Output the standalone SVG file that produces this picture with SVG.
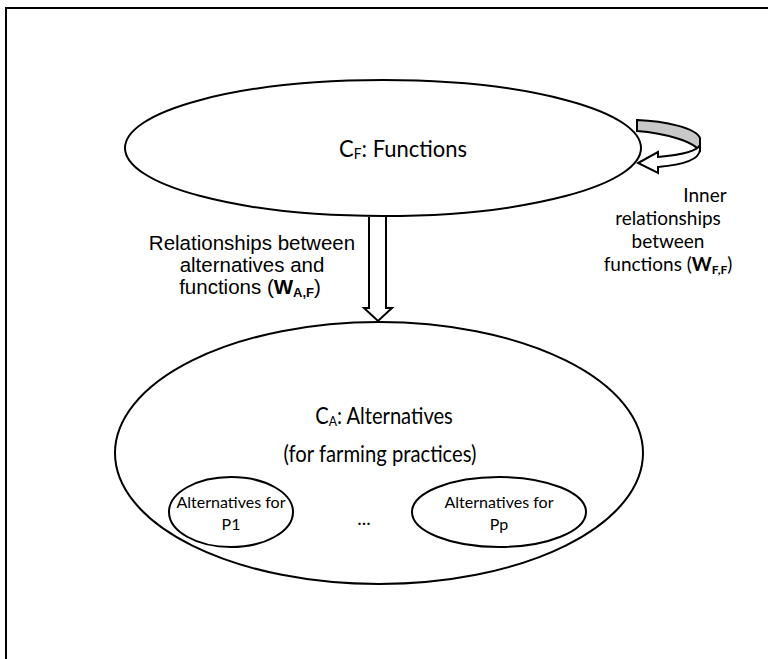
<svg xmlns="http://www.w3.org/2000/svg" width="768" height="659" viewBox="0 0 768 659">
<style>
.ln{fill:none;stroke:#000;stroke-width:2}
.nd{fill:#fff;stroke:#000;stroke-width:2}
.cal{font-family:Lato,"Open Sans",sans-serif;fill:#000}
.ari{font-family:"Liberation Sans",Arial,sans-serif;fill:#000}
</style>
<rect x="6" y="8" width="900" height="800" class="ln"/>
<g id="functions">
<ellipse cx="383" cy="148" rx="258" ry="68" class="nd"/>
<text transform="translate(403,157) scale(0.915,1)" text-anchor="middle" class="cal" font-size="24">C<tspan font-size="15" dy="2">F</tspan><tspan dy="-2">: Functions</tspan></text>
</g>
<g id="alternatives">
<ellipse cx="379" cy="453" rx="264" ry="131" class="nd"/>
<text transform="translate(384,424) scale(0.875,1)" text-anchor="middle" class="cal" font-size="23">C<tspan font-size="14" dy="2">A</tspan><tspan dy="-2">: Alternatives</tspan></text>
<text transform="translate(380,462) scale(0.88,1)" text-anchor="middle" class="cal" font-size="23">(for farming practices)</text>
</g>
<g id="alt-p1">
<ellipse cx="231" cy="512" rx="62" ry="35" class="nd"/>
<text x="231" y="508" text-anchor="middle" class="cal" font-size="16">Alternatives for</text>
<text x="231" y="530" text-anchor="middle" class="cal" font-size="16">P1</text>
</g>
<text x="364" y="525" text-anchor="middle" class="cal" font-size="19">...</text>
<g id="alt-pp">
<ellipse cx="499" cy="512" rx="87" ry="35" class="nd"/>
<text x="499" y="508" text-anchor="middle" class="cal" font-size="16">Alternatives for</text>
<text x="499" y="530" text-anchor="middle" class="cal" font-size="16">Pp</text>
</g>
<g id="connectors">
<path d="M369,217 L369,308 L364,308 L378,321 L392,308 L386,308 L386,217" fill="#fff" stroke="#000" stroke-width="2" stroke-linejoin="miter"/>
<path d="M637,120 C665,121 696,128 700,138 L700,152 C696,142 665,133 637,131 Z" fill="#c8c8c8" stroke="#000" stroke-width="2"/>
<path d="M700,145 C697,151 680,155 658,157 L658,152 L638,163 L658,173 L658,167 C682,165 699,160 700,150 Z" fill="#fff" stroke="#000" stroke-width="2" stroke-linejoin="miter"/>
</g>
<g id="label-af">
<text class="ari" font-size="20.5" text-anchor="middle"><tspan x="252" y="250">Relationships between</tspan><tspan x="252" y="272">alternatives and</tspan><tspan x="250" y="294">functions (<tspan font-weight="bold">W</tspan><tspan font-weight="bold" font-size="13" dy="3">A,F</tspan><tspan dy="-3">)</tspan></tspan></text>
</g>
<g id="label-ff">
<text class="cal" font-size="19" text-anchor="middle"><tspan x="705" y="202">Inner</tspan><tspan x="668" y="225">relationships</tspan><tspan x="668" y="248">between</tspan><tspan x="668" y="271">functions (<tspan font-weight="bold">W</tspan><tspan font-weight="bold" font-size="12" dy="3">F,F</tspan><tspan dy="-3">)</tspan></tspan></text>
</g>
</svg>
